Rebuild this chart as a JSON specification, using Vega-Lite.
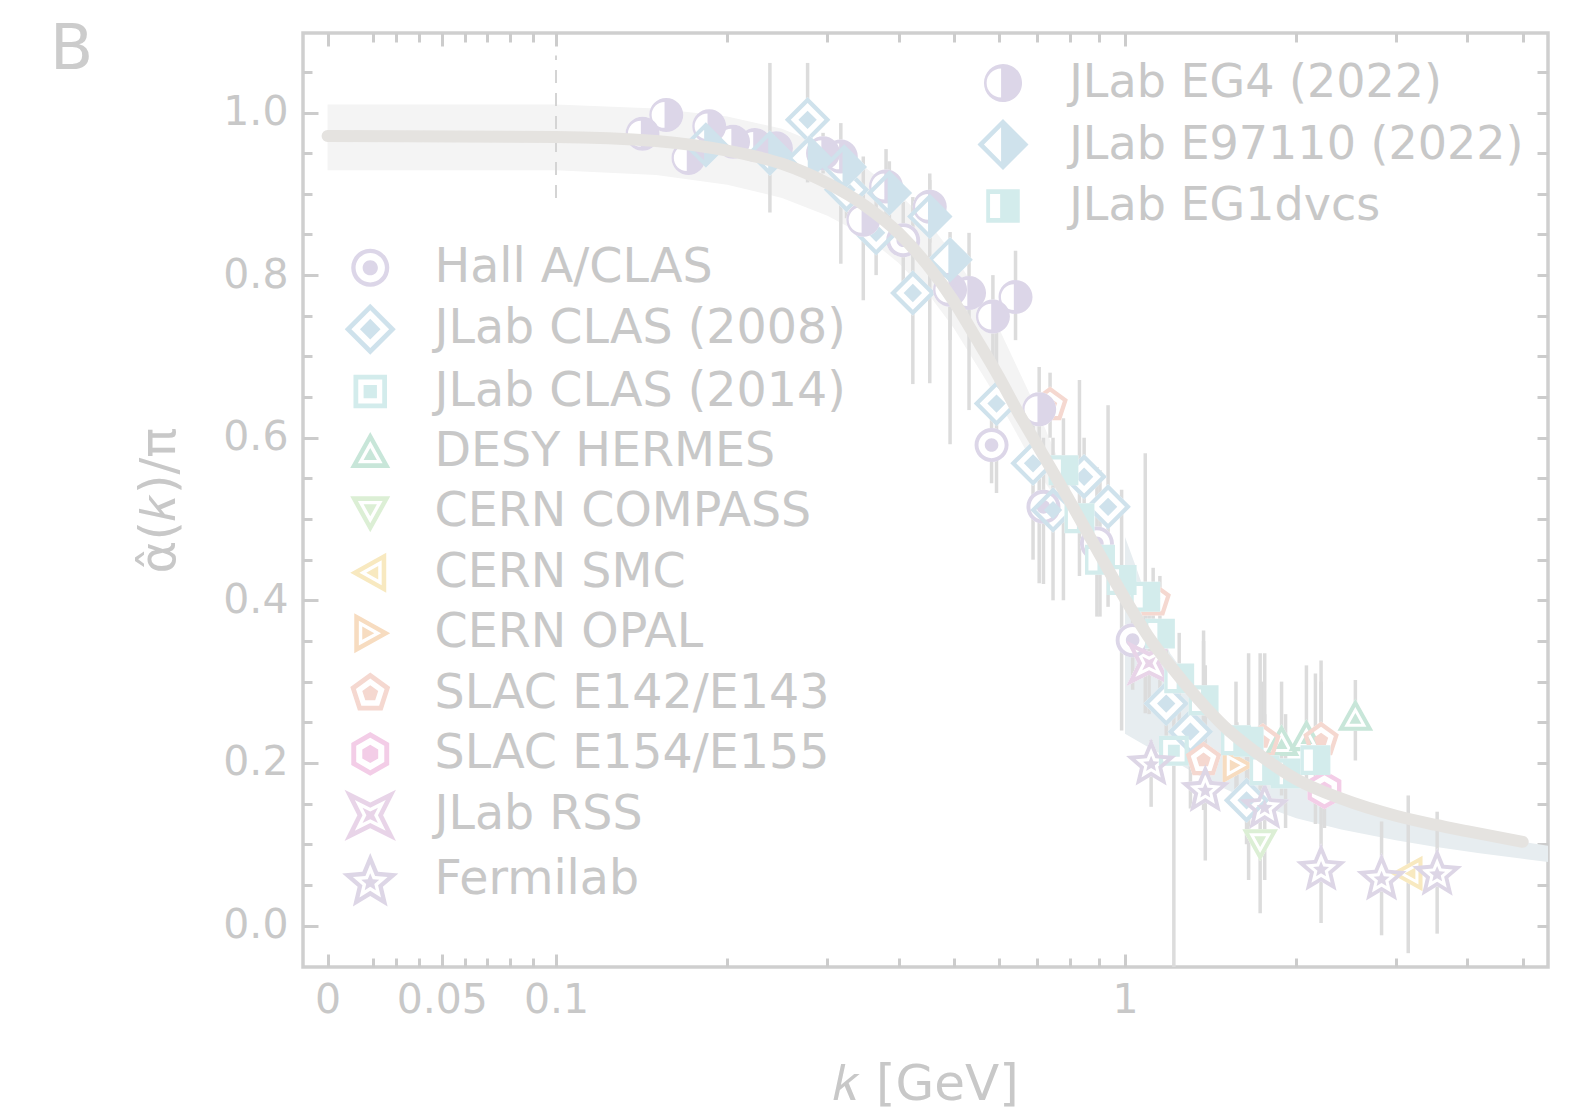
{
"$schema": "https://vega.github.io/schema/vega-lite/v6.json",
"width": 1245, "height": 934,
"autosize": "none",
"padding": {"left": 303, "top": 33, "right": 36, "bottom": 148},
"background": "white",
"title": {"text": "B", "anchor": "start", "frame": "group", "offset": 0, "dx": -253, "dy": 100, "fontSize": 63, "font": "DejaVu Sans", "fontWeight": "normal", "color": "#cccccc", "baseline": "alphabetic"},
"config": {"view": {"stroke": "#cfcfcf", "strokeWidth": 3.5}, "font": "DejaVu Sans"},
"datasets": {
"band1": [
{"k":0,"lo":0.929,"hi":1.010},{"k":0.1,"lo":0.929,"hi":1.010},{"k":0.15,"lo":0.923,"hi":1.005},{"k":0.2,"lo":0.911,"hi":0.995},{"k":0.25,"lo":0.895,"hi":0.980},{"k":0.3,"lo":0.873,"hi":0.957},{"k":0.35,"lo":0.848,"hi":0.932},{"k":0.4,"lo":0.815,"hi":0.900},{"k":0.45,"lo":0.778,"hi":0.866},{"k":0.5,"lo":0.735,"hi":0.825},{"k":0.55,"lo":0.690,"hi":0.782},{"k":0.6,"lo":0.645,"hi":0.735},{"k":0.7,"lo":0.560,"hi":0.635},{"k":0.8,"lo":0.500,"hi":0.540}
],
"band2": [
{"k":1.0,"lo":0.236,"hi":0.478},{"k":1.05,"lo":0.228,"hi":0.44},{"k":1.1,"lo":0.220,"hi":0.40},{"k":1.2,"lo":0.205,"hi":0.335},{"k":1.4,"lo":0.178,"hi":0.270},{"k":1.7,"lo":0.150,"hi":0.218},{"k":2.0,"lo":0.132,"hi":0.180},{"k":2.4,"lo":0.118,"hi":0.155},{"k":3.0,"lo":0.105,"hi":0.133},{"k":3.5,"lo":0.097,"hi":0.122},{"k":4.2,"lo":0.089,"hi":0.112},{"k":5.0,"lo":0.082,"hi":0.103},{"k":5.54,"lo":0.078,"hi":0.098}
],
"curve": [
{"k":0,"y":0.971},{"k":0.1,"y":0.970},{"k":0.15,"y":0.965},{"k":0.2,"y":0.953},{"k":0.25,"y":0.937},{"k":0.3,"y":0.913},{"k":0.35,"y":0.885},{"k":0.4,"y":0.852},{"k":0.45,"y":0.812},{"k":0.5,"y":0.768},{"k":0.55,"y":0.722},{"k":0.6,"y":0.675},{"k":0.65,"y":0.632},{"k":0.7,"y":0.592},{"k":0.8,"y":0.522},{"k":0.9,"y":0.458},{"k":1.0,"y":0.402},{"k":1.1,"y":0.357},{"k":1.2,"y":0.320},{"k":1.35,"y":0.278},{"k":1.5,"y":0.245},{"k":1.7,"y":0.213},{"k":2.0,"y":0.180},{"k":2.4,"y":0.156},{"k":3.0,"y":0.135},{"k":3.5,"y":0.124},{"k":4.0,"y":0.116},{"k":5.0,"y":0.103}
],
"pts": [
{"s":"Hall A/CLAS","g":1,"k":0.408,"y":0.843,"lo":0.79,"hi":0.89},
{"s":"Hall A/CLAS","g":1,"k":0.584,"y":0.591,"lo":0.544,"hi":0.638},
{"s":"Hall A/CLAS","g":1,"k":0.720,"y":0.515,"lo":0.42,"hi":0.60},
{"s":"Hall A/CLAS","g":1,"k":0.893,"y":0.470,"lo":0.38,"hi":0.564},
{"s":"Hall A/CLAS","g":1,"k":1.034,"y":0.351,"lo":0.29,"hi":0.41},
{"s":"JLab CLAS (2008)","g":1,"k":0.2775,"y":0.991,"lo":0.914,"hi":1.061},
{"s":"JLab CLAS (2008)","g":1,"k":0.325,"y":0.905,"lo":0.87,"hi":0.94},
{"s":"JLab CLAS (2008)","g":1,"k":0.366,"y":0.852,"lo":0.80,"hi":0.90},
{"s":"JLab CLAS (2008)","g":1,"k":0.4245,"y":0.778,"lo":0.666,"hi":0.896},
{"s":"JLab CLAS (2008)","g":1,"k":0.595,"y":0.642,"lo":0.532,"hi":0.75},
{"s":"JLab CLAS (2008)","g":1,"k":0.690,"y":0.5685,"lo":0.45,"hi":0.65},
{"s":"JLab CLAS (2008)","g":1,"k":0.749,"y":0.511,"lo":0.40,"hi":0.60},
{"s":"JLab CLAS (2008)","g":1,"k":0.849,"y":0.552,"lo":0.50,"hi":0.60},
{"s":"JLab CLAS (2008)","g":1,"k":0.935,"y":0.515,"lo":0.392,"hi":0.64},
{"s":"JLab CLAS (2008)","g":1,"k":1.183,"y":0.273,"lo":0.20,"hi":0.35},
{"s":"JLab CLAS (2008)","g":1,"k":1.307,"y":0.2385,"lo":0.144,"hi":0.306},
{"s":"JLab CLAS (2008)","g":1,"k":1.64,"y":0.154,"lo":0.10,"hi":0.21},
{"s":"JLab CLAS (2014)","g":1,"k":1.22,"y":0.215,"lo":-0.06,"hi":0.30},
{"s":"DESY HERMES","g":1,"k":1.89,"y":0.226,"lo":0.16,"hi":0.30},
{"s":"DESY HERMES","g":1,"k":2.09,"y":0.232,"lo":0.17,"hi":0.32},
{"s":"DESY HERMES","g":1,"k":2.55,"y":0.257,"lo":0.203,"hi":0.302},
{"s":"CERN COMPASS","g":1,"k":1.73,"y":0.101,"lo":0.015,"hi":0.335},
{"s":"CERN SMC","g":1,"k":3.16,"y":0.064,"lo":-0.034,"hi":0.16},
{"s":"CERN OPAL","g":1,"k":1.58,"y":0.197,"lo":0.14,"hi":0.25},
{"s":"SLAC E142/E143","g":1,"k":0.74,"y":0.640,"lo":0.60,"hi":0.68},
{"s":"SLAC E142/E143","g":1,"k":1.125,"y":0.400,"lo":0.36,"hi":0.44},
{"s":"SLAC E142/E143","g":1,"k":1.376,"y":0.2035,"lo":0.142,"hi":0.363},
{"s":"SLAC E142/E143","g":1,"k":1.75,"y":0.226,"lo":0.16,"hi":0.30},
{"s":"SLAC E142/E143","g":1,"k":2.22,"y":0.228,"lo":0.17,"hi":0.30},
{"s":"SLAC E154/E155","g":1,"k":2.25,"y":0.167,"lo":0.12,"hi":0.22},
{"s":"JLab RSS","g":1,"k":1.107,"y":0.3225,"lo":0.26,"hi":0.39},
{"s":"Fermilab","g":1,"k":1.116,"y":0.2015,"lo":0.146,"hi":0.228},
{"s":"Fermilab","g":1,"k":1.385,"y":0.169,"lo":0.08,"hi":0.32},
{"s":"Fermilab","g":1,"k":1.764,"y":0.148,"lo":0.056,"hi":0.335},
{"s":"Fermilab","g":1,"k":2.22,"y":0.072,"lo":0.003,"hi":0.326},
{"s":"Fermilab","g":1,"k":2.83,"y":0.060,"lo":-0.012,"hi":0.128},
{"s":"Fermilab","g":1,"k":3.54,"y":0.066,"lo":-0.01,"hi":0.14},
{"s":"JLab EG4 (2022)","g":2,"k":0.142,"y":0.974,"lo":0.962,"hi":0.988},
{"s":"JLab EG4 (2022)","g":2,"k":0.1565,"y":0.997,"lo":0.984,"hi":1.010},
{"s":"JLab EG4 (2022)","g":2,"k":0.171,"y":0.944,"lo":0.930,"hi":0.958},
{"s":"JLab EG4 (2022)","g":2,"k":0.1865,"y":0.983,"lo":0.968,"hi":0.998},
{"s":"JLab EG4 (2022)","g":2,"k":0.205,"y":0.964,"lo":0.948,"hi":0.980},
{"s":"JLab EG4 (2022)","g":2,"k":0.224,"y":0.960,"lo":0.942,"hi":0.978},
{"s":"JLab EG4 (2022)","g":2,"k":0.244,"y":0.956,"lo":0.936,"hi":0.976},
{"s":"JLab EG4 (2022)","g":2,"k":0.295,"y":0.950,"lo":0.925,"hi":0.975},
{"s":"JLab EG4 (2022)","g":2,"k":0.3175,"y":0.946,"lo":0.814,"hi":0.987},
{"s":"JLab EG4 (2022)","g":2,"k":0.347,"y":0.868,"lo":0.769,"hi":0.946},
{"s":"JLab EG4 (2022)","g":2,"k":0.381,"y":0.909,"lo":0.86,"hi":0.955},
{"s":"JLab EG4 (2022)","g":2,"k":0.454,"y":0.884,"lo":0.84,"hi":0.925},
{"s":"JLab EG4 (2022)","g":2,"k":0.493,"y":0.782,"lo":0.72,"hi":0.84},
{"s":"JLab EG4 (2022)","g":2,"k":0.534,"y":0.778,"lo":0.634,"hi":0.852},
{"s":"JLab EG4 (2022)","g":2,"k":0.587,"y":0.749,"lo":0.69,"hi":0.80},
{"s":"JLab EG4 (2022)","g":2,"k":0.644,"y":0.773,"lo":0.72,"hi":0.83},
{"s":"JLab EG4 (2022)","g":2,"k":0.707,"y":0.635,"lo":0.421,"hi":0.687},
{"s":"JLab E97110 (2022)","g":2,"k":0.184,"y":0.960,"lo":0.94,"hi":0.98},
{"s":"JLab E97110 (2022)","g":2,"k":0.238,"y":0.950,"lo":0.877,"hi":1.061},
{"s":"JLab E97110 (2022)","g":2,"k":0.2796,"y":0.944,"lo":0.92,"hi":0.97},
{"s":"JLab E97110 (2022)","g":2,"k":0.322,"y":0.933,"lo":0.90,"hi":0.965},
{"s":"JLab E97110 (2022)","g":2,"k":0.386,"y":0.901,"lo":0.86,"hi":0.94},
{"s":"JLab E97110 (2022)","g":2,"k":0.454,"y":0.872,"lo":0.667,"hi":0.917},
{"s":"JLab E97110 (2022)","g":2,"k":0.493,"y":0.819,"lo":0.592,"hi":0.853},
{"s":"JLab EG1dvcs","g":2,"k":0.7805,"y":0.560,"lo":0.40,"hi":0.624},
{"s":"JLab EG1dvcs","g":2,"k":0.833,"y":0.501,"lo":0.43,"hi":0.671},
{"s":"JLab EG1dvcs","g":2,"k":0.904,"y":0.450,"lo":0.38,"hi":0.56},
{"s":"JLab EG1dvcs","g":2,"k":0.987,"y":0.425,"lo":0.24,"hi":0.536},
{"s":"JLab EG1dvcs","g":2,"k":1.090,"y":0.4045,"lo":0.261,"hi":0.581},
{"s":"JLab EG1dvcs","g":2,"k":1.155,"y":0.359,"lo":0.29,"hi":0.43},
{"s":"JLab EG1dvcs","g":2,"k":1.248,"y":0.304,"lo":0.24,"hi":0.36},
{"s":"JLab EG1dvcs","g":2,"k":1.376,"y":0.277,"lo":0.20,"hi":0.35},
{"s":"JLab EG1dvcs","g":2,"k":1.574,"y":0.228,"lo":0.16,"hi":0.30},
{"s":"JLab EG1dvcs","g":2,"k":1.653,"y":0.226,"lo":0.056,"hi":0.335},
{"s":"JLab EG1dvcs","g":2,"k":1.764,"y":0.191,"lo":0.13,"hi":0.26},
{"s":"JLab EG1dvcs","g":2,"k":1.92,"y":0.187,"lo":0.12,"hi":0.26},
{"s":"JLab EG1dvcs","g":2,"k":2.17,"y":0.2035,"lo":0.125,"hi":0.31}
]
},
"layer": [
{
"data": {"name": "band1"},
"mark": {"type": "area", "color": "#f4f4f4", "opacity": 1},
"encoding": {
"x": {"field": "k", "type": "quantitative",
 "scale": {"type": "linear", "nice": false, "zero": false,
  "domain": [-0.01076, 0.1, 0.11, 0.12, 0.13, 0.14, 0.15, 0.17, 0.2, 0.23, 0.26, 0.3, 0.35, 0.4, 0.45, 0.5, 0.6, 0.7, 0.8, 0.9, 1, 1.2, 1.4, 1.7, 2, 2.4, 2.9, 3.5, 4.2, 5, 5.54],
  "range": [0, 253.0, 276.55, 298.05, 317.83, 336.15, 353.2, 384.12, 424.29, 458.82, 489.12, 524.48, 562.58, 595.57, 624.68, 650.71, 695.77, 733.86, 766.86, 795.96, 822.0, 867.05, 905.15, 953.13, 993.29, 1038.34, 1085.11, 1131.58, 1176.63, 1219.71, 1245]},
 "axis": {"orient": "bottom", "values": [0, 0.02, 0.03, 0.04, 0.05, 0.06, 0.07, 0.08, 0.09, 0.1, 0.2, 0.3, 0.4, 0.5, 0.6, 0.7, 0.8, 0.9, 1, 2, 3, 4, 5],
  "title": "𝑘 [GeV]", "domain": false, "grid": false,
  "tickColor": "#cccccc", "tickWidth": 3,
  "tickSize": {"condition": {"test": "indexof([0,0.05,0.1,1], datum.value) >= 0", "value": -13}, "value": -9},
  "labelExpr": "datum.value == 0 ? '0' : datum.value == 0.05 ? '0.05' : datum.value == 0.1 ? '0.1' : datum.value == 1 ? '1' : ''",
  "labelFont": "DejaVu Sans", "labelFontSize": 41, "labelColor": "#c8c8c8", "labelPadding": 26,
  "labelOverlap": false, "labelFlush": false, "labelBound": false,
  "titleFont": "DejaVu Sans", "titleFontSize": 50, "titleColor": "#c8c8c8", "titleFontWeight": "normal", "titlePadding": 35}},
"y": {"field": "lo", "type": "quantitative",
 "scale": {"domain": [-0.051, 1.0978], "nice": false, "zero": false},
 "axis": {"orient": "left", "values": [0,0.05,0.1,0.15,0.2,0.25,0.3,0.35,0.4,0.45,0.5,0.55,0.6,0.65,0.7,0.75,0.8,0.85,0.9,0.95,1,1.05],
  "title": "α̂(𝑘)/π", "domain": false, "grid": false,
  "tickColor": "#cccccc", "tickWidth": 3,
  "tickSize": {"condition": {"test": "indexof([0,0.2,0.4,0.6,0.8,1], datum.value) >= 0", "value": -15}, "value": -9},
  "labelExpr": "indexof([0,0.2,0.4,0.6,0.8,1], datum.value) >= 0 ? format(datum.value, '.1f') : ''",
  "labelFont": "DejaVu Sans", "labelFontSize": 41, "labelColor": "#c8c8c8", "labelPadding": 30,
  "labelOverlap": false, "labelFlush": false, "labelBound": false,
  "titleFont": "DejaVu Sans", "titleFontSize": 50, "titleColor": "#c8c8c8", "titleFontWeight": "normal", "titlePadding": 38}},
"y2": {"field": "hi"}
}
},
{
"data": {"name": "band2"},
"mark": {"type": "area", "color": "#e7edf0", "opacity": 1},
"encoding": {
"x": {"field": "k", "type": "quantitative", "axis": null},
"y": {"field": "lo", "type": "quantitative", "axis": null},
"y2": {"field": "hi"}
}
},
{
"data": {"values": [{}]},
"mark": {"type": "rule", "strokeDash": [13, 10], "color": "#d4d4d4", "strokeWidth": 2},
"encoding": {
"x": {"datum": 0.1, "type": "quantitative", "axis": null},
"y": {"datum": 0.895, "type": "quantitative", "axis": null},
"y2": {"datum": 1.07}
}
},
{
"data": {"name": "pts"},
"mark": {"type": "rule", "color": "#dcdcdc", "strokeWidth": 3.5, "clip": true},
"encoding": {
"x": {"field": "k", "type": "quantitative", "axis": null},
"y": {"field": "lo", "type": "quantitative", "axis": null},
"y2": {"field": "hi"}
}
},
{
"data": {"name": "pts"},
"transform": [{"filter": "datum.g == 1"}],
"mark": {"type": "point", "filled": true, "color": "white", "opacity": 1, "size": 1156, "strokeWidth": 0},
"encoding": {
"x": {"field": "k", "type": "quantitative", "axis": null},
"y": {"field": "y", "type": "quantitative", "axis": null},
"shape": {"field": "s", "type": "nominal", "legend": null,
 "scale": {"domain": ["Hall A/CLAS", "JLab CLAS (2008)", "JLab CLAS (2014)", "DESY HERMES", "CERN COMPASS", "CERN SMC", "CERN OPAL", "SLAC E142/E143", "SLAC E154/E155", "JLab RSS", "Fermilab"],
 "range": [
 "M0,-1A1,1 0 1,1 0,1A1,1 0 1,1 0,-1Z",
 "M0,-1.34L1.34,0L0,1.34L-1.34,0Z",
 "M-0.88,-0.88L0.88,-0.88L0.88,0.88L-0.88,0.88Z",
 "M0,-1.05L1.05,0.84L-1.05,0.84Z",
 "M0,1.05L-1.05,-0.84L1.05,-0.84Z",
 "M-1.05,0L0.84,1.05L0.84,-1.05Z",
 "M1.05,0L-0.84,1.05L-0.84,-1.05Z",
 "M0,-1.1L1.046,-0.34L0.647,0.89L-0.647,0.89L-1.046,-0.34Z",
 "M0,-1.15L0.996,-0.575L0.996,0.575L0,1.15L-0.996,0.575L-0.996,-0.575Z",
 "M-1.35,-1.35L0,-0.675L1.35,-1.35L0.675,0L1.35,1.35L0,0.675L-1.35,1.35L-0.675,0Z",
 "M0,-1.4L0.41,-0.414L1.474,-0.329L0.663,0.365L0.911,1.404L0,0.848L-0.911,1.404L-0.663,0.365L-1.474,-0.329L-0.41,-0.414Z"
 ]}}
}
},
{
"data": {"name": "pts"},
"transform": [{"filter": "datum.g == 1"}],
"mark": {"type": "point", "filled": true, "opacity": 1, "size": 1156, "strokeWidth": 0},
"encoding": {
"x": {"field": "k", "type": "quantitative", "axis": null},
"y": {"field": "y", "type": "quantitative", "axis": null},
"shape": {"field": "s", "type": "nominal",
 "legend": {"orient": "none", "legendX": 43.5, "legendY": 211, "title": null, "padding": 0, "labelFont": "DejaVu Sans", "labelFontSize": 47.5, "labelColor": "#c8c8c8", "symbolSize": 1450, "symbolStrokeWidth": 0, "symbolOpacity": 1, "labelOffset": 40.5, "rowPadding": 11.4, "labelLimit": 2000, "labelBaseline": "middle"},
 "scale": {"domain": ["Hall A/CLAS", "JLab CLAS (2008)", "JLab CLAS (2014)", "DESY HERMES", "CERN COMPASS", "CERN SMC", "CERN OPAL", "SLAC E142/E143", "SLAC E154/E155", "JLab RSS", "Fermilab"],
 "range": [
 "M0,-1A1,1 0 1,1 0,1A1,1 0 1,1 0,-1Z M0,-0.77A0.77,0.77 0 1,0 0,0.77A0.77,0.77 0 1,0 0,-0.77Z M0,-0.4A0.4,0.4 0 1,1 0,0.4A0.4,0.4 0 1,1 0,-0.4Z",
 "M0,-1.34L1.34,0L0,1.34L-1.34,0Z M0,-0.99L-0.99,0L0,0.99L0.99,0Z M0,-0.54L0.54,0L0,0.54L-0.54,0Z",
 "M-0.88,-0.88L0.88,-0.88L0.88,0.88L-0.88,0.88Z M-0.63,-0.63L-0.63,0.63L0.63,0.63L0.63,-0.63Z M-0.35,-0.35L0.35,-0.35L0.35,0.35L-0.35,0.35Z",
 "M0,-1.05L1.05,0.84L-1.05,0.84Z M0,-0.57L-0.65,0.6L0.65,0.6Z M0,-0.21L0.35,0.42L-0.35,0.42Z",
 "M0,1.05L-1.05,-0.84L1.05,-0.84Z M0,0.57L0.65,-0.6L-0.65,-0.6Z M0,0.21L-0.35,-0.42L0.35,-0.42Z",
 "M-1.05,0L0.84,1.05L0.84,-1.05Z M-0.57,0L0.6,-0.65L0.6,0.65Z M-0.21,0L0.42,0.35L0.42,-0.35Z",
 "M1.05,0L-0.84,1.05L-0.84,-1.05Z M0.57,0L-0.6,-0.65L-0.6,0.65Z M0.21,0L-0.42,0.35L-0.42,-0.35Z",
 "M0,-1.1L1.046,-0.34L0.647,0.89L-0.647,0.89L-1.046,-0.34Z M0,-0.792L-0.753,-0.245L-0.466,0.641L0.466,0.641L0.753,-0.245Z M0,-0.44L0.418,-0.136L0.259,0.356L-0.259,0.356L-0.418,-0.136Z",
 "M0,-1.15L0.996,-0.575L0.996,0.575L0,1.15L-0.996,0.575L-0.996,-0.575Z M0,-0.85L-0.737,-0.425L-0.737,0.425L0,0.85L0.737,0.425L0.737,-0.425Z M0,-0.48L0.418,-0.24L0.418,0.24L0,0.48L-0.418,0.24L-0.418,-0.24Z",
 "M-1.35,-1.35L0,-0.675L1.35,-1.35L0.675,0L1.35,1.35L0,0.675L-1.35,1.35L-0.675,0Z M-0.81,-0.81L-0.405,0L-0.81,0.81L0,0.405L0.81,0.81L0.405,0L0.81,-0.81L0,-0.405Z M-0.405,-0.405L0,-0.2025L0.405,-0.405L0.2025,0L0.405,0.405L0,0.2025L-0.405,0.405L-0.2025,0Z",
 "M0,-1.4L0.41,-0.414L1.474,-0.329L0.663,0.365L0.911,1.404L0,0.848L-0.911,1.404L-0.663,0.365L-1.474,-0.329L-0.41,-0.414Z M0,-0.811L-0.254,-0.2L-0.914,-0.147L-0.411,0.283L-0.565,0.927L0,0.583L0.565,0.927L0.411,0.283L0.914,-0.147L0.254,-0.2Z M0,-0.346L0.131,-0.03L0.472,-0.003L0.212,0.219L0.292,0.551L0,0.373L-0.292,0.551L-0.212,0.219L-0.472,-0.003L-0.131,-0.03Z"
 ]}},
"color": {"field": "s", "type": "nominal",
 "legend": {"orient": "none", "legendX": 43.5, "legendY": 211, "title": null, "padding": 0, "labelFont": "DejaVu Sans", "labelFontSize": 47.5, "labelColor": "#c8c8c8", "symbolSize": 1450, "symbolStrokeWidth": 0, "symbolOpacity": 1, "labelOffset": 40.5, "rowPadding": 11.4, "labelLimit": 2000, "labelBaseline": "middle"},
 "scale": {"domain": ["Hall A/CLAS", "JLab CLAS (2008)", "JLab CLAS (2014)", "DESY HERMES", "CERN COMPASS", "CERN SMC", "CERN OPAL", "SLAC E142/E143", "SLAC E154/E155", "JLab RSS", "Fermilab"],
 "range": ["#dcd6e8", "#cfe2ec", "#d3ecec", "#c8e6d9", "#dcefd5", "#f8e9c0", "#f7dcc0", "#f5d8d0", "#f3cde7", "#e8d4e8", "#ddd6e6"]}}
}
},
{
"data": {"name": "pts"},
"transform": [{"filter": "datum.g == 2"}],
"mark": {"type": "point", "filled": true, "color": "white", "opacity": 1, "size": 1156, "strokeWidth": 0},
"encoding": {
"x": {"field": "k", "type": "quantitative", "axis": null},
"y": {"field": "y", "type": "quantitative", "axis": null},
"shape": {"field": "s", "type": "nominal", "legend": null,
 "scale": {"domain": ["JLab EG4 (2022)", "JLab E97110 (2022)", "JLab EG1dvcs"],
 "range": ["M0,-1A1,1 0 1,1 0,1A1,1 0 1,1 0,-1Z", "M0,-1.34L1.34,0L0,1.34L-1.34,0Z", "M-0.88,-0.88L0.88,-0.88L0.88,0.88L-0.88,0.88Z"]}}
}
},
{
"data": {"name": "pts"},
"transform": [{"filter": "datum.g == 2"}],
"mark": {"type": "point", "filled": true, "opacity": 1, "size": 1156, "strokeWidth": 0},
"encoding": {
"x": {"field": "k", "type": "quantitative", "axis": null},
"y": {"field": "y", "type": "quantitative", "axis": null},
"shape": {"field": "s", "type": "nominal",
 "legend": {"orient": "none", "legendX": 677, "legendY": 27, "title": null, "padding": 0, "labelFont": "DejaVu Sans", "labelFontSize": 46, "labelColor": "#c8c8c8", "symbolSize": 1450, "symbolStrokeWidth": 0, "symbolOpacity": 1, "labelOffset": 43.3, "rowPadding": 12.5, "labelLimit": 2000, "labelBaseline": "middle"},
 "scale": {"domain": ["JLab EG4 (2022)", "JLab E97110 (2022)", "JLab EG1dvcs"],
 "range": [
 "M0,-1A1,1 0 1,1 0,1A1,1 0 1,1 0,-1Z M-0.1,-0.76A0.76,0.76 0 0,0 -0.1,0.76Z",
 "M0,-1.34L1.34,0L0,1.34L-1.34,0Z M-0.1,-0.9L-1.0,0L-0.1,0.9Z",
 "M-0.88,-0.88L0.88,-0.88L0.88,0.88L-0.88,0.88Z M-0.68,-0.63L-0.68,0.63L-0.15,0.63L-0.15,-0.63Z"
 ]}},
"color": {"field": "s", "type": "nominal",
 "legend": {"orient": "none", "legendX": 677, "legendY": 27, "title": null, "padding": 0, "labelFont": "DejaVu Sans", "labelFontSize": 46, "labelColor": "#c8c8c8", "symbolSize": 1450, "symbolStrokeWidth": 0, "symbolOpacity": 1, "labelOffset": 43.3, "rowPadding": 12.5, "labelLimit": 2000, "labelBaseline": "middle"},
 "scale": {"domain": ["JLab EG4 (2022)", "JLab E97110 (2022)", "JLab EG1dvcs"],
 "range": ["#dcd6e8", "#cfe2ec", "#d3ecec"]}}
}
},
{
"data": {"name": "curve"},
"mark": {"type": "line", "color": "#e5e3e0", "strokeWidth": 12, "strokeCap": "round", "interpolate": "monotone"},
"encoding": {
"x": {"field": "k", "type": "quantitative",
 "axis": {"orient": "top", "values": [0, 0.02, 0.03, 0.04, 0.05, 0.06, 0.07, 0.08, 0.09, 0.1, 0.2, 0.3, 0.4, 0.5, 0.6, 0.7, 0.8, 0.9, 1, 2, 3, 4, 5],
  "title": null, "labels": false, "domain": false, "grid": false, "tickColor": "#cccccc", "tickWidth": 3,
  "tickSize": {"condition": {"test": "indexof([0,0.05,0.1,1], datum.value) >= 0", "value": -13}, "value": -9}}},
"y": {"field": "y", "type": "quantitative",
 "axis": {"orient": "right", "values": [0,0.05,0.1,0.15,0.2,0.25,0.3,0.35,0.4,0.45,0.5,0.55,0.6,0.65,0.7,0.75,0.8,0.85,0.9,0.95,1,1.05],
  "title": null, "labels": false, "domain": false, "grid": false, "tickColor": "#cccccc", "tickWidth": 3, "tickSize": -11}}
}
}
],
"resolve": {"scale": {"shape": "independent", "color": "independent"}, "axis": {"x": "independent", "y": "independent"}}
}
